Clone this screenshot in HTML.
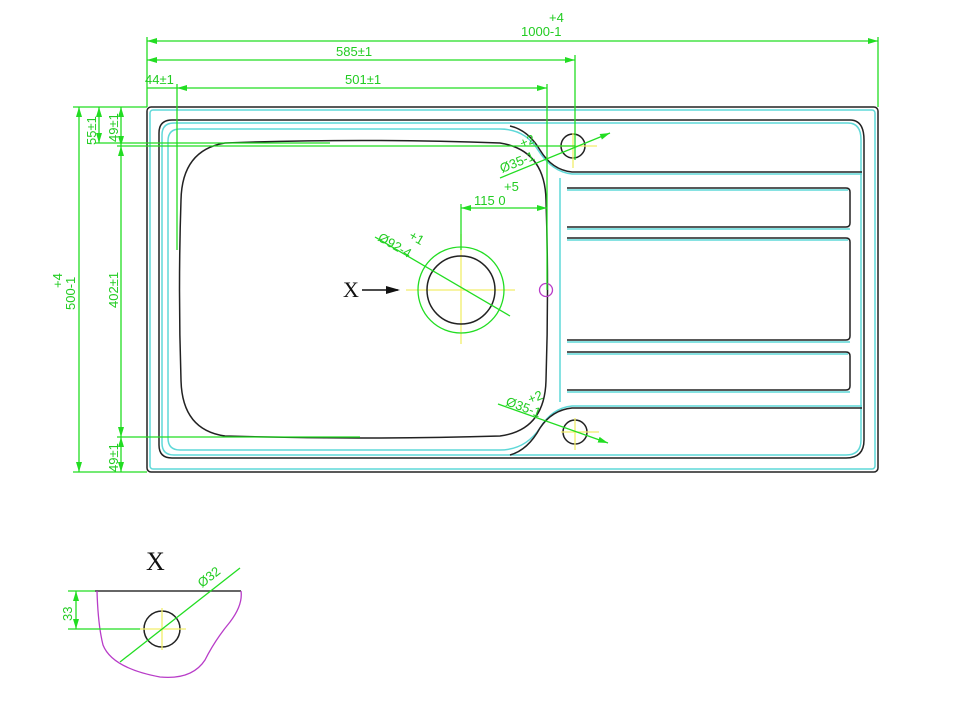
<!DOCTYPE html>
<html><head><meta charset="utf-8"><style>
html,body{margin:0;padding:0;background:#fff;width:970px;height:707px;overflow:hidden}
svg{display:block}
.g{stroke:#22dd22;stroke-width:1.3;fill:none}
.k{stroke:#222;stroke-width:1.5;fill:none}
.c{stroke:#5fd8d8;stroke-width:1.5;fill:none}
.y{stroke:#f2ee6a;stroke-width:1.3;fill:none}
.t{fill:#22cc22;font-family:"Liberation Sans",sans-serif;font-size:13px}
</style></head><body>
<svg width="970" height="707" viewBox="0 0 970 707" xmlns="http://www.w3.org/2000/svg">
<defs>
<marker id="a" viewBox="0 0 10 6" refX="10" refY="3" markerWidth="10" markerHeight="6" orient="auto-start-reverse" markerUnits="userSpaceOnUse"><path d="M0,0L10,3L0,6z" fill="#22dd22"/></marker>
</defs>
<rect x="147" y="107" width="731" height="365" rx="4" class="k"/>
<rect x="150" y="110" width="725" height="359" rx="3" class="c"/>
<path class="k" d="M172,120 H850 Q864,120 864,140 V440 Q864,458 846,458 H172 Q159,458 159,445 V133 Q159,120 172,120 Z"/>
<path class="c" d="M174,123 H848 Q861,123 861,140 V440 Q861,455 846,455 H174 Q162,455 162,443 V135 Q162,123 174,123 Z" stroke-width="1"/>
<path class="c" d="M180,129 H500 Q525,129 538,150 Q552,172 572,174 H862"/>
<path class="c" d="M180,450 H500 Q525,450 540,428 Q552,408 572,406 H862"/>
<path class="c" d="M180,129 Q168,129 168,141 V438 Q168,450 180,450"/>
<path class="k" d="M510,126 Q528,130 540,150 Q552,170 572,172 H862"/>
<path class="k" d="M510,455 Q528,450 540,428 Q552,410 572,408 H862"/>
<line x1="560" y1="178" x2="560" y2="402" class="c"/>
<path class="k" d="M567,188 H846 Q850,188 850,192 V223 Q850,227 846,227 H567"/>
<path class="c" d="M567,190 H848 M567,229 H850"/>
<path class="k" d="M567,238 H846 Q850,238 850,242 V336 Q850,340 846,340 H567"/>
<path class="c" d="M567,240 H848 M567,342 H850"/>
<path class="k" d="M567,352 H846 Q850,352 850,356 V386 Q850,390 846,390 H567"/>
<path class="c" d="M567,354 H848 M567,392 H850"/>
<path class="k" d="M225,143 Q360,138 500,143 Q545,150 546,200 Q549,290 546,380 Q545,430 500,436 Q360,440 225,436 Q182,430 181,380 Q178,290 181,200 Q182,150 225,143 Z"/>
<circle cx="573" cy="146" r="12" class="k"/>
<circle cx="575" cy="432" r="12" class="k"/>
<path class="y" d="M559,146H597M573,133V168M561,432H599M575,418V450"/>
<path class="y" d="M406,290H515M461,234V344"/>
<circle cx="461" cy="290" r="43" class="g" stroke-width="1.6"/>
<circle cx="461" cy="290" r="34" class="k"/>
<circle cx="546" cy="290" r="6.5" fill="none" stroke="#b83cc8" stroke-width="1.3"/>
<text x="343" y="297" font-family="Liberation Serif,serif" font-size="22" fill="#111">X</text>
<line x1="362" y1="290" x2="398" y2="290" stroke="#111" stroke-width="1.5"/>
<path d="M386,286L400,290L386,294z" fill="#111"/>
<path class="g" d="M147,37V107M878,37V107M575,55V160M177,84V250M547,84V290"/>
<line x1="147" y1="41" x2="878" y2="41" class="g" marker-start="url(#a)" marker-end="url(#a)"/>
<line x1="147" y1="60" x2="575" y2="60" class="g" marker-start="url(#a)" marker-end="url(#a)"/>
<line x1="177" y1="88" x2="547" y2="88" class="g" marker-start="url(#a)" marker-end="url(#a)"/>
<line x1="147" y1="88" x2="177" y2="88" class="g"/>
<text class="t" x="521" y="36">1000-1</text><text class="t" x="549" y="22">+4</text>
<text class="t" x="336" y="56">585±1</text>
<text class="t" x="345" y="84">501±1</text>
<text class="t" x="145" y="84">44±1</text>
<path class="g" d="M461,204V250"/>
<line x1="461" y1="208" x2="547" y2="208" class="g" marker-start="url(#a)" marker-end="url(#a)"/>
<text class="t" x="474" y="205">115 0</text><text class="t" x="504" y="191">+5</text>
<path class="g" d="M73,107H147M73,472H147M95,143H330M117,146H575M117,437H360"/>
<line x1="79" y1="107" x2="79" y2="472" class="g" marker-start="url(#a)" marker-end="url(#a)"/>
<line x1="99" y1="107" x2="99" y2="143" class="g" marker-start="url(#a)" marker-end="url(#a)"/>
<line x1="121" y1="107" x2="121" y2="146" class="g" marker-start="url(#a)" marker-end="url(#a)"/>
<line x1="121" y1="146" x2="121" y2="437" class="g" marker-start="url(#a)" marker-end="url(#a)"/>
<line x1="121" y1="437" x2="121" y2="472" class="g" marker-start="url(#a)" marker-end="url(#a)"/>
<text class="t" transform="translate(75,310) rotate(-90)">500-1</text>
<text class="t" transform="translate(62,288) rotate(-90)">+4</text>
<text class="t" transform="translate(96,145) rotate(-90)">55±1</text>
<text class="t" transform="translate(118,142) rotate(-90)">49±1</text>
<text class="t" transform="translate(118,308) rotate(-90)">402±1</text>
<text class="t" transform="translate(118,472) rotate(-90)">49±1</text>
<line x1="375" y1="237" x2="510" y2="316" class="g"/>
<text class="t" transform="translate(377,240) rotate(30)">Ø92-4</text>
<text class="t" font-size="11" transform="translate(408,238) rotate(30)">+1</text>
<line x1="500" y1="178" x2="610" y2="133" class="g" marker-end="url(#a)"/>
<text class="t" transform="translate(502,173) rotate(-22)">Ø35-1</text>
<text class="t" font-size="11" transform="translate(522,148) rotate(-22)">+2</text>
<line x1="498" y1="404" x2="608" y2="443" class="g" marker-end="url(#a)"/>
<text class="t" transform="translate(505,405) rotate(20)">Ø35-1</text>
<text class="t" font-size="11" transform="translate(530,404) rotate(-22)">+2</text>
<text x="146" y="570" font-family="Liberation Serif,serif" font-size="26" fill="#111">X</text>
<line x1="95" y1="591" x2="241" y2="591" stroke="#333" stroke-width="1.5"/>
<path d="M97,591 Q98,625 103,645 Q112,668 160,677 Q192,680 205,660 Q215,640 230,622 Q243,605 241,591" fill="none" stroke="#b83cc8" stroke-width="1.3"/>
<circle cx="162" cy="629" r="18" class="k"/>
<path class="y" d="M140,629H186M162,608V650"/>
<path class="g" d="M68,591H95M68,629H140"/>
<line x1="76" y1="591" x2="76" y2="629" class="g" marker-start="url(#a)" marker-end="url(#a)"/>
<text class="t" font-size="15" transform="translate(72,621) rotate(-90)">33</text>
<line x1="120" y1="662" x2="240" y2="568" class="g"/>
<text class="t" font-size="15" transform="translate(202,588) rotate(-38)">Ø32</text>
</svg>
</body></html>
